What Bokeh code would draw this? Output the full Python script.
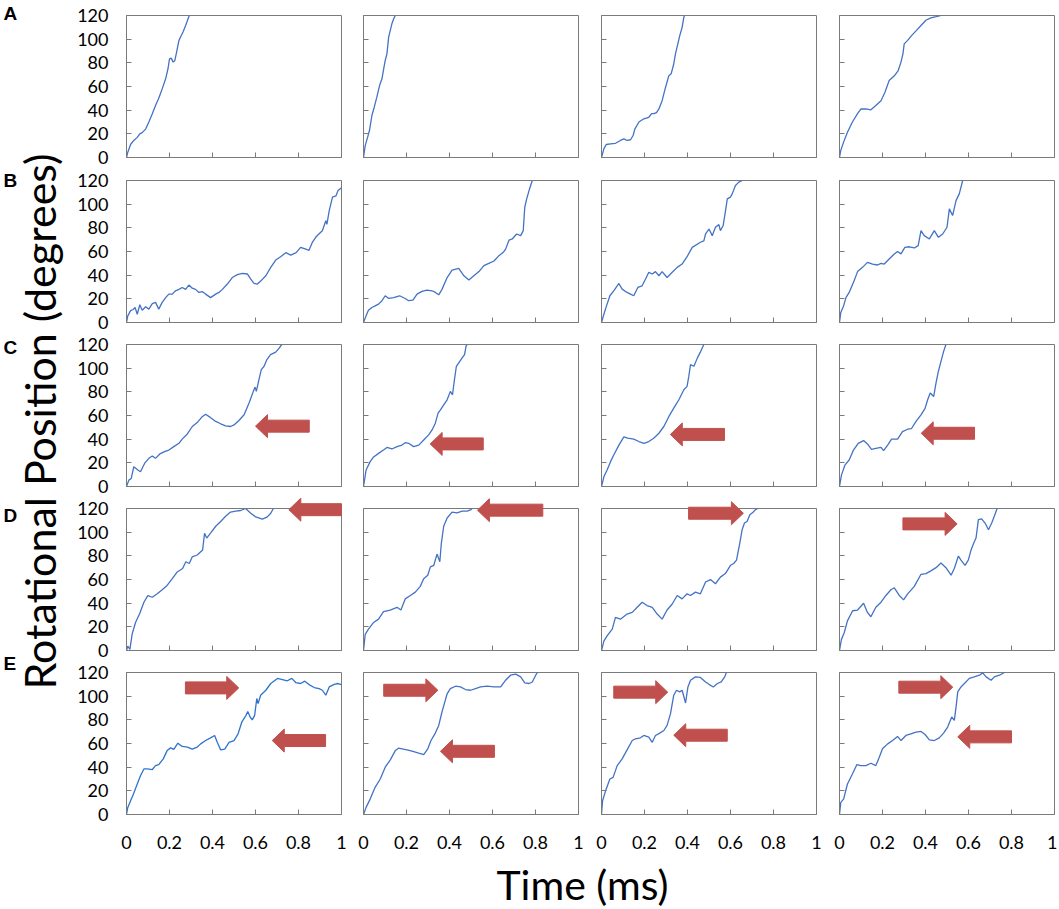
import math
from bokeh.plotting import figure
from bokeh.layouts import row, column
from bokeh.models import Range1d, FixedTicker
from bokeh.embed import file_html
from bokeh.resources import INLINE
from bokeh.core.properties import value

# ---------------- data ----------------
row_labels = ["A", "B", "C", "D", "E"]
x_ticks = [0, 0.2, 0.4, 0.6, 0.8, 1]
x_tick_labels = ["0", "0.2", "0.4", "0.6", "0.8", "1"]
y_ticks = [0, 20, 40, 60, 80, 100, 120]
y_tick_labels = ["0", "20", "40", "60", "80", "100", "120"]
x_title = "Time (ms)"
y_title = "Rotational Position (degrees)"

a1_time = [0,.006,.019,.034,.05,.062,.073,.089,.104,.12,.135,.15,.166,.182,.193,.2,.208,.217,.225,.233,.244,.252,.264,.275,.286,.292]
a1_deg = [0,4.5,11,14.4,17,20,21,24,30,37,44,50,58,66.5,75,83.4,84,80.6,82,89,99,102,106.5,111.5,117,120]
a2_time = [0,.008,.019,.028,.039,.05,.062,.075,.086,.093,.101,.109,.117,.124,.132,.14,.148]
a2_deg = [0,10,17,23,35.5,42.5,51,61,66.5,74,82,87.6,101.7,107,113,117,120]
a3_time = [0,.011,.022,.042,.065,.088,.104,.119,.135,.147,.155,.174,.197,.22,.233,.243,.256,.267,.282,.298,.313,.324,.336,.344,.355,.364,.375,.383,.386]
a3_deg = [0,7.3,11,11.5,12,14.4,15.8,14.4,15,18.6,24,30,32.7,34,37,37,38,41,48,59.4,69,70.7,79,87.6,96,103,110,118.6,120]
a4_time = [0,.006,.019,.037,.06,.084,.1,.123,.146,.169,.193,.211,.231,.255,.273,.286,.295,.301,.317,.335,.356,.379,.402,.425,.449,.469]
a4_deg = [0,6,13,21.4,30,37,41,41,40.3,44,48,55,65,69,73.5,80.6,87.6,96,99,103,107,111.5,116,118,119,120]

b1_time = [0,.006,.019,.031,.04,.05,.062,.073,.089,.104,.12,.135,.15,.166,.182,.197,.213,.228,.244,.259,.275,.29,.306,.321,.337,.353,.368,.391,.415,.43,.446,.469,.492,.516,.539,.562,.578,.593,.609,.624,.648,.671,.694,.717,.741,.764,.789,.81,.834,.849,.865,.88,.896,.911,.927,.932,.943,.958,.974,.984,1.0]
b1_deg = [0,5.6,10,11,12.7,7,15,10.4,13.3,11.3,16,17,11.3,17,21,24,24,26.8,28,29.6,28,31.6,29,28,25.4,26,24,21,24,25.4,28,32.5,38,40.4,41.5,41,36.7,33,32.5,35,39.5,46.6,52.8,55.6,59,57,59,63.5,62,61,68,72,75,77.6,86,83,94.6,106,107,111.5,113.8]
b2_time = [0,.012,.023,.039,.054,.07,.086,.101,.117,.14,.168,.194,.21,.23,.249,.272,.295,.319,.334,.35,.365,.389,.412,.443,.467,.49,.513,.537,.56,.583,.607,.63,.65,.661,.677,.692,.712,.731,.743,.75,.759,.77,.785]
b2_deg = [0,5.6,10.4,12.7,14,15.5,18.4,22.6,20.3,21,22.6,20.3,18.4,19,24,26.3,27.4,26.8,25.4,23.4,28,38,44.3,45.7,39.5,35.9,39.5,43,48,50,52,56.5,59.3,62,69.7,70.6,74.8,73.4,77.6,97.4,104.5,111.5,120]
b3_time = [0,.011,.026,.039,.057,.081,.096,.119,.135,.15,.169,.189,.205,.22,.236,.251,.267,.282,.305,.329,.352,.375,.398,.422,.46,.476,.484,.5,.515,.53,.546,.553,.566,.577,.585,.6,.608,.623,.639,.654]
b3_deg = [0,7,15.5,22.6,26.8,33,28.2,25.4,24,22.6,29.6,31,36.7,42.4,41,43,39.5,43,38,42.4,46.6,49.4,55.6,63.5,67.8,69,74.8,79,73.4,80.5,82.7,77.6,82,94.6,104.5,106,108.7,115.8,118.6,120]
b4_time = [0,.006,.019,.03,.045,.068,.084,.107,.13,.154,.177,.193,.208,.231,.255,.27,.286,.304,.325,.348,.366,.379,.394,.418,.441,.46,.48,.5,.511,.526,.542,.557,.573]
b4_deg = [0,8.5,14,21,25.4,35.3,43,46.6,50.8,49.4,48.6,50,49.4,53.6,57.9,60,58,63.5,64,63,65,77.6,73.4,70.6,77.6,72,74.8,80.5,96,90.4,103,108.7,120]

c1_time = [0,.011,.022,.034,.053,.065,.084,.104,.12,.135,.155,.177,.197,.22,.244,.259,.283,.306,.329,.352,.368,.388,.415,.438,.461,.484,.5,.523,.547,.57,.59,.598,.604,.616,.627,.64,.652,.67,.694,.71,.722]
c1_deg = [0,5.4,6.8,16.7,13.9,12.5,19.5,23.8,25.8,23.8,27.5,29.4,30.8,33.7,36.5,40,44.4,50.7,54,59,61,58.6,55,53,51.2,50.7,52,55.8,60.6,70.5,80.4,84,80.4,90.3,98.8,101.6,107,111.5,113.5,117,120]
c2_time = [0,.012,.031,.047,.07,.093,.109,.132,.156,.179,.194,.21,.233,.257,.28,.303,.319,.334,.347,.358,.373,.389,.404,.414,.423,.432,.443,.459,.47,.477,.482]
c2_deg = [0,13.9,21,25,28,30.8,33,31.7,33.7,35,37,36.5,33.7,35,39.3,43.6,47.8,53.5,62,64.8,69,73.3,80.4,77.5,90.3,101.6,104.4,108.7,111.5,118.6,120]
c3_time = [0,.011,.026,.042,.057,.081,.104,.122,.15,.174,.197,.22,.243,.267,.29,.313,.336,.36,.383,.398,.406,.414,.43,.446,.461,.476]
c3_deg = [0,8.2,13.9,21,26.6,35,42,40.8,40,38,36.5,38,40.8,45,50.7,59,66.2,73.3,81.8,84.6,93,103,101.6,108.7,114,120]
c4_time = [0,.009,.025,.045,.065,.087,.112,.13,.149,.169,.193,.205,.224,.242,.27,.293,.317,.335,.356,.379,.398,.41,.422,.438,.449,.46,.472,.484,.495]
c4_deg = [0,9.6,18,22.4,30.8,36.5,38.8,36,31.4,32.3,33,30.3,35,40,40,46.4,48.4,49,55,60.6,66,73.3,79,76,87.5,97.4,105.8,114,120]

d1_time = [0,.006,.016,.026,.042,.062,.081,.099,.12,.143,.166,.189,.213,.236,.261,.276,.292,.306,.329,.354,.363,.373,.391,.415,.438,.461,.484,.508,.531,.554,.578,.601,.632,.655,.671,.683]
d1_deg = [0,3.7,0.9,13.7,23.7,31.4,40.8,46.4,45,47.9,51.3,55,60.7,66.4,69.3,75,73.5,79.2,80.7,85,99,95,99.2,105,109,113.4,117,117.7,118.3,120,116,112.9,111,112.9,116,120]
d2_time = [0,.008,.023,.047,.07,.093,.124,.156,.174,.194,.218,.241,.264,.28,.299,.311,.327,.342,.355,.362,.373,.389,.412,.435,.459,.482,.5,.505]
d2_deg = [0,13.7,18,23.7,26.5,32.8,34.2,36.5,34.2,43.6,46.5,49.3,54.2,60.7,63.6,70.7,72,81.5,75,90.6,105,112,116.9,116.3,117.7,117.7,119,120]
d3_time = [0,.011,.026,.05,.065,.088,.119,.143,.166,.189,.212,.236,.259,.282,.305,.329,.352,.375,.398,.414,.437,.46,.484,.507,.53,.553,.576,.6,.615,.628,.643,.654,.665,.677,.69,.705,.716,.727]
d3_deg = [0,8,12.3,18,28,26.5,30.8,32.2,36.5,40.8,38,36.5,30.8,26.5,34.2,39.3,46.5,43.6,47.9,46.5,49.3,47.9,57.9,59.9,56.4,62,65,72,73.5,76.4,90.6,102,107.7,109,114.8,116.8,119,120]
d4_time = [0,.009,.022,.037,.061,.084,.112,.13,.146,.169,.193,.216,.239,.255,.278,.298,.317,.348,.379,.402,.425,.449,.472,.495,.519,.534,.553,.565,.584,.599,.612,.624,.635,.646,.661,.677,.693,.708,.72,.733]
d4_deg = [0,9.4,15,25,33.6,34.2,39.9,32.2,28.5,36.5,40.8,46.5,51.3,53,46.5,42.8,47.9,54.2,64.4,65,67.3,70,74,70,63.6,69.3,79.8,76.4,72,76.4,85,90.6,95,110.6,111.2,107.7,102,107.7,113.4,120]

e1_time = [0,.006,.019,.031,.05,.065,.081,.096,.12,.135,.15,.171,.189,.205,.22,.239,.259,.283,.306,.329,.345,.368,.391,.41,.422,.438,.457,.477,.5,.519,.536,.556,.564,.575,.585,.596,.606,.612,.624,.648,.671,.702,.725,.748,.769,.787,.81,.829,.849,.873,.896,.911,.927,.943,.966,.984,1.0]
e1_deg = [0,6,11.6,16.7,25.8,32.8,38.5,38.5,38,41.3,42.2,47,54,56.3,55,60.3,57.5,57,55.2,57,59.7,62.5,64.8,66.8,61,54.6,55.2,61,62.5,68.2,78,83.8,87,82.4,80,83.8,98,93.7,100.8,105,110.7,115,114,113,115,111.5,110.7,112.7,109.8,107.3,106.4,105,100.8,107.8,110,110.7,109.8]
e2_time = [0,.012,.031,.054,.078,.101,.124,.148,.163,.202,.226,.257,.28,.299,.314,.334,.35,.365,.376,.389,.404,.428,.451,.474,.498,.521,.544,.575,.607,.638,.661,.684,.708,.731,.75,.77,.785,.801,.809]
e2_deg = [0,6,13,23,30,40,46,54,56,54.6,53.5,51.8,50.7,55.5,62.5,68.8,75.3,86.6,93.7,102,106.4,108.4,107.8,105.6,105,106.4,107.8,108.4,107.8,107.8,113.5,117.7,118.6,116.3,111.2,110.7,112,117.7,120]
e3_time = [0,.005,.019,.039,.054,.073,.096,.119,.143,.158,.181,.197,.22,.236,.251,.271,.29,.305,.321,.336,.349,.364,.375,.391,.402,.414,.437,.46,.484,.5,.52,.539,.557,.573,.581]
e3_deg = [0,11.6,20,30,31.4,41.3,47,54.6,62.5,64,64.8,66.8,65.4,61,66.8,68.8,71,75.3,85.2,100.8,105,103.6,105,94.2,107.8,113.5,116.3,115.8,112,110,107.8,110.7,112,116.3,120]
e4_time = [0,.006,.019,.037,.06,.081,.099,.123,.146,.169,.185,.2,.224,.247,.27,.286,.309,.332,.356,.379,.398,.418,.441,.464,.484,.503,.522,.534,.542,.55,.565,.581,.604,.627,.651,.666,.682,.705,.72,.744,.767]
e4_deg = [0,10.2,13,25.8,34.2,42.2,41.3,41.3,43.3,41.3,48.4,55.5,59.7,62.5,66,62.5,66.8,68.2,69.6,70.2,67.6,63,62.5,64.8,68.8,73.9,82.4,79.5,90.8,103.6,107.8,110.7,115,116.3,117.7,119.7,116.3,113.5,116.3,117.7,120]

# red arrows: panel row, panel column, tail time, tip time, height (degrees)
arrow_row = ["C", "C", "C", "C", "D", "D", "D", "D", "E", "E", "E", "E", "E", "E", "E", "E"]
arrow_col = [1, 2, 3, 4, 1, 2, 3, 4, 1, 1, 2, 2, 3, 3, 4, 4]
arrow_tail = [0.85, 0.557, 0.572, 0.628, 1.0, 0.834, 0.405, 0.295, 0.274, 0.926, 0.094, 0.609, 0.057, 0.585, 0.276, 0.80]
arrow_tip = [0.60, 0.31, 0.32, 0.38, 0.755, 0.53, 0.66, 0.547, 0.522, 0.678, 0.346, 0.358, 0.308, 0.336, 0.527, 0.55]
arrow_deg = [51, 36, 44, 45, 119, 118.6, 116, 107, 107, 62.5, 105, 53.4, 103.4, 67, 107.6, 65.6]

panels = [
    [(a1_time, a1_deg), (a2_time, a2_deg), (a3_time, a3_deg), (a4_time, a4_deg)],
    [(b1_time, b1_deg), (b2_time, b2_deg), (b3_time, b3_deg), (b4_time, b4_deg)],
    [(c1_time, c1_deg), (c2_time, c2_deg), (c3_time, c3_deg), (c4_time, c4_deg)],
    [(d1_time, d1_deg), (d2_time, d2_deg), (d3_time, d3_deg), (d4_time, d4_deg)],
    [(e1_time, e1_deg), (e2_time, e2_deg), (e3_time, e3_deg), (e4_time, e4_deg)],
]

# ---------------- style / layout ----------------
FW, FH = 215, 142
STRIP_W = 70
col_lb = [56, 11, 11, 11]
col_rb = [11, 12, 12, 3]
row_tb = [15, 12, 12, 12, 12]
row_bb = [11, 10, 10, 10, 37]
GREY = "#7A7A7A"
BLUE = "#4472C4"
BLUE_E1 = "#2E74CF"
RED = "#C0504D"
FONT = "Lato"
TICK_FS = "18px"


def arrow_shape(tail, tip, yc):
    d = 1 if tip > tail else -1
    ux = 1.0 / FW
    uy = 120.0 / FH
    sh = 6 * uy
    hw = 11.5 * uy
    hl = 12 * ux
    xb = tip - d * hl
    xs = [tail, xb, xb, tip, xb, xb, tail]
    ys = [yc + sh, yc + sh, yc + hw, yc, yc - hw, yc - sh, yc - sh]
    return xs, ys


def make_panel(r, c):
    p = figure(frame_width=FW, frame_height=FH,
               x_range=Range1d(0, 1), y_range=Range1d(0, 120),
               min_border_left=col_lb[c], min_border_right=col_rb[c],
               min_border_top=row_tb[r], min_border_bottom=row_bb[r],
               output_backend="svg", toolbar_location=None, tools="")
    p.grid.visible = False
    p.outline_line_color = GREY
    p.outline_line_width = 1
    p.background_fill_color = "white"
    p.border_fill_color = "white"
    for ax in (p.xaxis[0], p.yaxis[0]):
        ax.axis_line_color = GREY
        ax.major_tick_line_color = GREY
        ax.major_tick_in = 5
        ax.major_tick_out = 0
        ax.minor_tick_line_color = None
        ax.major_label_text_font = FONT
    p.xaxis.ticker = FixedTicker(ticks=x_ticks)
    p.yaxis.ticker = FixedTicker(ticks=y_ticks)
    p.xaxis.major_label_overrides = dict(zip(x_ticks, x_tick_labels))
    p.yaxis.major_label_overrides = dict(zip(y_ticks, y_tick_labels))
    if r == len(row_labels) - 1:
        p.xaxis.major_label_text_font_size = TICK_FS
        p.xaxis.major_label_text_color = "black"
        p.xaxis.major_label_standoff = 21
    else:
        # tick marks only: labels are not painted
        p.xaxis.major_label_text_font_size = "5px"
        p.xaxis.major_label_text_color = None
        p.xaxis.major_label_standoff = 0
    if c == 0:
        p.yaxis.major_label_text_font_size = TICK_FS
        p.yaxis.major_label_text_color = "black"
        p.yaxis.major_label_standoff = 18
    else:
        p.yaxis.major_label_text_font_size = "5px"
        p.yaxis.major_label_text_color = None
        p.yaxis.major_label_standoff = 0

    t, deg = panels[r][c]
    color = BLUE_E1 if (r == 4 and c == 0) else BLUE
    p.line(t, deg, line_color=color, line_width=1.3)

    for i in range(len(arrow_row)):
        if arrow_row[i] == row_labels[r] and arrow_col[i] == c + 1:
            xs, ys = arrow_shape(arrow_tail[i], arrow_tip[i], arrow_deg[i])
            p.patch(xs, ys, fill_color=RED, line_color=RED, line_width=1, level="overlay")
    return p


grid_rows = []
for r in range(len(row_labels)):
    grid_rows.append(row(*[make_panel(r, c) for c in range(4)], spacing=0))
grid = column(*grid_rows, spacing=0)

rows_h = sum(row_tb) + sum(row_bb) + FH * len(row_labels)

# frame tops (px) of each row, for placing the panel letters
frame_tops = []
acc = 0
for r in range(len(row_labels)):
    frame_tops.append(acc + row_tb[r])
    acc += row_tb[r] + FH + row_bb[r]
letter_offsets = [-2, 0, 3, 7, -9]

left = figure(width=STRIP_W, height=rows_h, x_range=Range1d(0, STRIP_W), y_range=Range1d(0, rows_h),
              x_axis_location=None, y_axis_location=None, min_border=0,
              output_backend="svg", toolbar_location=None, tools="")
left.grid.visible = False
left.outline_line_color = None
left.text(x=[39], y=[rows_h - 421], text=[y_title], angle=math.pi / 2,
          text_align="center", text_baseline="middle",
          text_font=value(FONT), text_font_size="43px", text_color="black")
left.text(x=[3] * len(row_labels),
          y=[rows_h - (frame_tops[i] + letter_offsets[i]) for i in range(len(row_labels))],
          text=row_labels, text_align="left", text_baseline="middle",
          text_font=value("Liberation Sans"), text_font_style=value("bold"),
          text_font_size="19px", text_color="black")

TOTAL_W = STRIP_W + sum(col_lb) + sum(col_rb) + 4 * FW
BOT_H = 908 - rows_h
bottom = figure(width=TOTAL_W, height=BOT_H, x_range=Range1d(0, TOTAL_W), y_range=Range1d(0, BOT_H),
                x_axis_location=None, y_axis_location=None, min_border=0,
                output_backend="svg", toolbar_location=None, tools="")
bottom.grid.visible = False
bottom.outline_line_color = None
bottom.text(x=[582], y=[BOT_H - (884 - rows_h)], text=[x_title], text_align="center", text_baseline="middle",
            text_font=value(FONT), text_font_size="41px", text_color="black")

layout = column(row(left, grid, spacing=0), bottom, spacing=0)

open("out.html", "w").write(file_html(layout, INLINE))
